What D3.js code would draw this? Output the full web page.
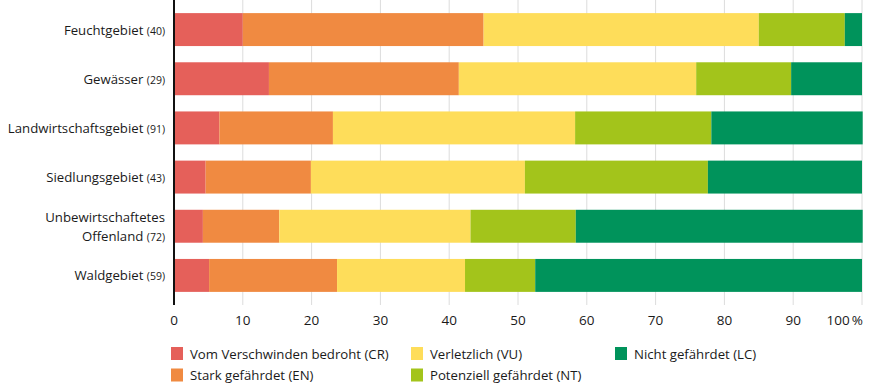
<!DOCTYPE html>
<html>
<head>
<meta charset="utf-8">
<script src="https://cdn.jsdelivr.net/npm/d3@7"></script>
<style>
  body { margin: 0; background: #fff; }
  text { font-family: "Open Sans", sans-serif; fill: #1a1a1a; }
  .label { font-size: 13.2px; }
  .count { font-size: 10.5px; }
  .tick-label { font-size: 13.5px; }
  .legend-text { font-size: 13.2px; }
</style>
</head>
<body>
<div id="wrapper"></div>
<script>
// Data (shares in %)
const habitats = [
  "Feuchtgebiet",
  "Gewässer",
  "Landwirtschaftsgebiet",
  "Siedlungsgebiet",
  "Unbewirtschaftetes Offenland",
  "Waldgebiet",
]
const counts = [40, 29, 91, 43, 72, 59]
const categories = ["CR", "EN", "VU", "NT", "LC"]
const categoryNames = [
  "Vom Verschwinden bedroht (CR)",
  "Stark gefährdet (EN)",
  "Verletzlich (VU)",
  "Potenziell gefährdet (NT)",
  "Nicht gefährdet (LC)",
]
const crValues = [10.0, 13.8, 6.6, 4.6, 4.2, 5.1]
const enValues = [35.0, 27.6, 16.5, 15.3, 11.1, 18.6]
const vuValues = [40.0, 34.5, 35.2, 31.1, 27.8, 18.6]
const ntValues = [12.5, 13.8, 19.8, 26.6, 15.3, 10.2]
const lcValues = [2.5, 10.3, 22.0, 22.4, 41.7, 47.5]
const xTicks = [0, 10, 20, 30, 40, 50, 60, 70, 80, 90, 100]

const colors = ["#e5605a", "#f08a41", "#fedd5a", "#a3c41b", "#00935b"]

const dataset = habitats.map((h, i) => ({
  habitat: h,
  count: counts[i],
  CR: crValues[i],
  EN: enValues[i],
  VU: vuValues[i],
  NT: ntValues[i],
  LC: lcValues[i],
}))

// dimensions
const dimensions = {
  width: 873,
  height: 387,
  margin: { top: 0, right: 11, left: 174 },
  barsBottom: 300,
  axisBottom: 305,
}
dimensions.boundedWidth = dimensions.width - dimensions.margin.left - dimensions.margin.right

const svg = d3.select("#wrapper")
  .append("svg")
    .attr("width", dimensions.width)
    .attr("height", dimensions.height)

const bounds = svg.append("g")
  .attr("transform", `translate(${dimensions.margin.left}, ${dimensions.margin.top})`)

// scales
const xScale = d3.scaleLinear()
  .domain([0, 100])
  .range([0, dimensions.boundedWidth])

const yScale = d3.scaleBand()
  .domain(habitats)
  .range([5, dimensions.barsBottom])
  .paddingInner(0.33)
  .paddingOuter(0.165)

const colorScale = d3.scaleOrdinal()
  .domain(categories)
  .range(colors)

// grid
bounds.append("g")
  .selectAll("line")
  .data(xTicks.slice(1))
  .join("line")
    .attr("x1", d => xScale(d))
    .attr("x2", d => xScale(d))
    .attr("y1", 0)
    .attr("y2", dimensions.axisBottom)
    .attr("stroke", "#dcdcdc")
    .attr("stroke-width", 1)

// bars
const stacked = d3.stack().keys(categories)(dataset)

bounds.append("g")
  .selectAll("g")
  .data(stacked)
  .join("g")
    .attr("fill", d => colorScale(d.key))
  .selectAll("rect")
  .data(d => d)
  .join("rect")
    .attr("x", d => xScale(d[0]))
    .attr("width", d => xScale(d[1]) - xScale(d[0]))
    .attr("y", d => yScale(d.data.habitat))
    .attr("height", yScale.bandwidth())

// axis line
bounds.append("line")
  .attr("x1", 0)
  .attr("x2", 0)
  .attr("y1", 0)
  .attr("y2", dimensions.axisBottom)
  .attr("stroke", "#111")
  .attr("stroke-width", 2)

// tick labels
bounds.append("g")
  .selectAll("text")
  .data(xTicks)
  .join("text")
    .attr("class", "tick-label")
    .attr("x", d => d == 100 ? xScale(d) + 1 : xScale(d))
    .attr("y", 325)
    .attr("text-anchor", d => d == 100 ? "end" : "middle")
    .text(d => d == 100 ? "100\u2009%" : d)

// row labels
const labels = bounds.append("g")
  .selectAll("text")
  .data(dataset)
  .join("text")
    .attr("class", "label")
    .attr("text-anchor", "end")
    .attr("x", -9)
    .attr("y", d => yScale(d.habitat) + yScale.bandwidth() / 2 + 5)

labels.each(function(d) {
  const t = d3.select(this)
  const words = d.habitat.split(" ")
  if (words.length > 1) {
    t.append("tspan")
      .attr("x", -9)
      .attr("dy", -9.5)
      .text(words[0])
    const second = t.append("tspan")
      .attr("x", -9)
      .attr("dy", 19)
    second.append("tspan").text(words.slice(1).join(" ") + " ")
    second.append("tspan").attr("class", "count").text(`(${d.count})`)
  } else {
    t.append("tspan").text(d.habitat + " ")
    t.append("tspan").attr("class", "count").text(`(${d.count})`)
  }
})

// legend
const legendCols = [171, 411, 615]
const legendRows = [353.5, 375]
const legendItems = categories.map((c, i) => ({
  key: c,
  name: categoryNames[i],
  x: legendCols[Math.floor(i / 2)],
  y: legendRows[i % 2],
}))

const legend = svg.append("g")
  .selectAll("g")
  .data(legendItems)
  .join("g")
    .attr("transform", d => `translate(${d.x}, ${d.y})`)

legend.append("rect")
  .attr("x", 0)
  .attr("y", -6.5)
  .attr("width", 12)
  .attr("height", 13)
  .attr("fill", d => colorScale(d.key))

legend.append("text")
  .attr("class", "legend-text")
  .attr("x", 19)
  .attr("y", 5)
  .text(d => d.name)
</script>
</body>
</html>
